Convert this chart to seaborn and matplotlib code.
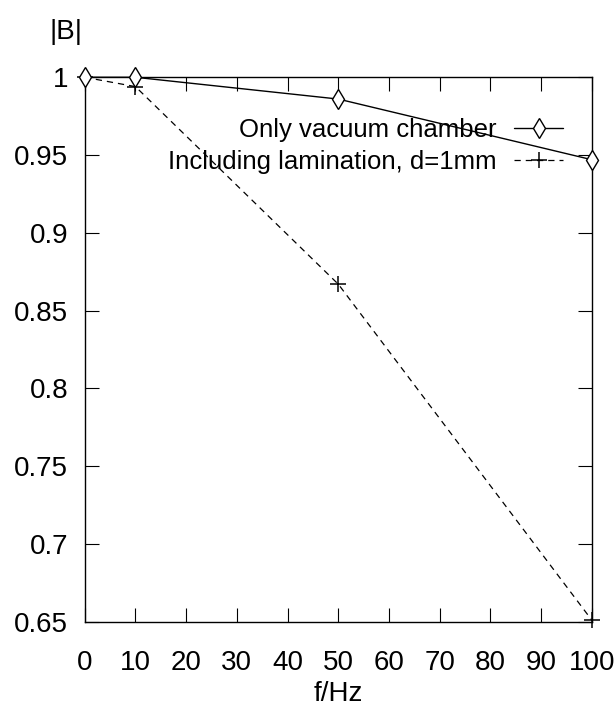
import matplotlib
matplotlib.use("Agg")
import matplotlib.pyplot as plt
import seaborn as sns
from matplotlib.ticker import FormatStrFormatter

# values
freq = [0, 10, 50, 100]
vacuum_only = [1.0, 1.0, 0.986, 0.947]
with_lamination = [1.0, 0.994, 0.867, 0.651]

x_ticks = [0, 10, 20, 30, 40, 50, 60, 70, 80, 90, 100]
y_ticks = [0.65, 0.7, 0.75, 0.8, 0.85, 0.9, 0.95, 1.0]

sns.set_style("ticks")
plt.rcParams['font.family'] = ['Liberation Sans', 'DejaVu Sans']
plt.rcParams['text.color'] = "black"
plt.rcParams['axes.labelcolor'] = "black"

fig, ax = plt.subplots(figsize=(6.14, 7.09), dpi=100)
fig.subplots_adjust(left=0.138, right=0.964, top=0.891, bottom=0.123)

sns.lineplot(x=freq, y=vacuum_only, ax=ax, color="black", linewidth=1.0,
             marker="d", markersize=10, markerfacecolor="white", markeredgecolor="black",
             markeredgewidth=1.0, label="Only vacuum chamber", clip_on=False, zorder=5)
sns.lineplot(x=freq, y=with_lamination, ax=ax, color="black", linewidth=0.9,
             linestyle=(0, (5, 4)), marker="+", markersize=12, markeredgewidth=1.1,
             markeredgecolor="black", label="Including lamination, d=1mm",
             clip_on=False, zorder=4)

ax.set_xlim(0, 100)
ax.set_ylim(0.65, 1.0)
ax.set_xticks(x_ticks)
ax.set_yticks(y_ticks)
ax.yaxis.set_major_formatter(FormatStrFormatter("%g"))
ax.tick_params(direction="in", length=10, width=0.8, labelsize=20,
               top=True, right=True, colors="black")
ax.tick_params(axis="y", pad=12)
ax.tick_params(axis="x", pad=20)
for s in ax.spines.values():
    s.set_linewidth(1.0)
    s.set_color("black")

ax.set_xlabel("f/Hz", fontsize=20, labelpad=4)
ax.set_ylabel("")
fig.text(0.107, 0.955, "|B|", fontsize=20, ha="center", va="center")

leg = ax.legend(loc="upper right", bbox_to_anchor=(0.943, 0.925), frameon=False,
                markerfirst=False, fontsize=18.5, handlelength=1.9, handletextpad=0.7,
                labelspacing=0.3, borderaxespad=0, borderpad=0)
leg._legend_box.align = "right"
for t in leg.get_texts():
    t.set_color("black")

fig.savefig("out.png", dpi=100)
